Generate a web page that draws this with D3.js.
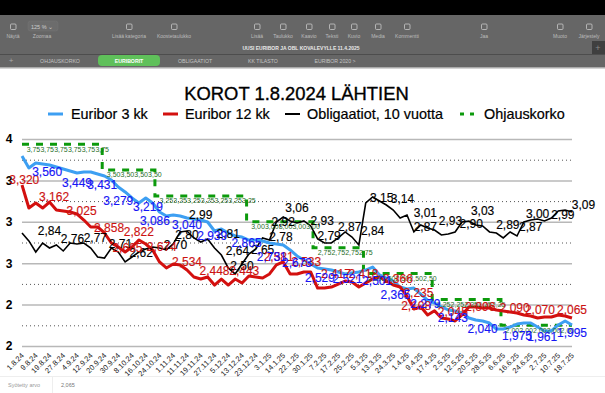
<!DOCTYPE html>
<html><head><meta charset="utf-8">
<script src="https://cdn.jsdelivr.net/npm/d3@7"></script>
<style>html,body{margin:0;padding:0;background:#fff}svg{display:block;font-family:"Liberation Sans",Arial,sans-serif}</style>
</head><body><svg id="c" width="605" height="393"></svg>
<script>
const titleText = "KOROT 1.8.2024 LÄHTIEN";
const seriesNames = ["Euribor 3 kk","Euribor 12 kk","Obligaatiot, 10 vuotta","Ohjauskorko"];
const tickLabels = ["1.8.24","9.8.24","19.8.24","27.8.24","4.9.24","12.9.24","20.9.24","30.9.24","8.10.24","16.10.24","24.10.24","1.11.24","11.11.24","19.11.24","27.11.24","5.12.24","13.12.24","23.12.24","3.1.25","14.1.25","22.1.25","30.1.25","7.2.25","17.2.25","25.2.25","5.3.25","13.3.25","24.3.25","1.4.25","9.4.25","17.4.25","2.5.25","12.5.25","20.5.25","28.5.25","6.6.25","16.6.25","24.6.25","2.7.25","10.7.25","18.7.25"];
const yTicks = [1.8,2.2,2.6,3.0,3.4,3.8];
const yMinor = [2.0,2.4,2.8,3.2,3.6];
const sampleStep = 3; // business days between sampled readings
const euribor3 = [3.636,3.52,3.568,3.558,3.549,3.53,3.51,3.491,3.471,3.481,3.481,3.462,3.443,3.404,3.336,3.288,3.23,3.182,3.23,3.182,3.095,3.056,3.066,3.056,3.037,3.027,3.017,2.998,2.911,2.93,2.892,2.863,2.853,2.824,2.824,2.814,2.795,2.785,2.776,2.728,2.67,2.631,2.592,2.554,2.544,2.534,2.515,2.496,2.505,2.515,2.534,2.563,2.486,2.457,2.428,2.37,2.351,2.36,2.302,2.244,2.215,2.177,2.148,2.138,2.119,2.07,2.051,2.042,2.022,1.964,1.964,1.983,2.012,2.022,2.022,1.983,1.945,1.945,2.003,2.042,2.003];
const euribor12 = [3.356,3.133,3.182,3.133,3.191,3.114,3.104,3.095,3.075,3.017,2.95,2.95,2.892,2.795,2.757,2.708,2.757,2.824,2.785,2.728,2.612,2.554,2.592,2.583,2.534,2.467,2.447,2.467,2.389,2.447,2.389,2.447,2.409,2.476,2.467,2.457,2.496,2.583,2.612,2.496,2.496,2.515,2.515,2.36,2.36,2.37,2.399,2.428,2.418,2.37,2.409,2.447,2.467,2.428,2.389,2.37,2.283,2.157,2.18,2.10,2.14,2.07,2.061,2.042,2.1,2.177,2.177,2.167,2.167,2.148,2.138,2.129,2.119,2.1,2.09,2.07,2.08,2.08,2.1,2.09,2.07];
const bond10 = [2.892,2.815,2.708,2.795,2.747,2.776,2.718,2.795,2.786,2.795,2.747,2.66,2.65,2.747,2.708,2.612,2.66,2.708,2.737,2.757,2.747,2.728,2.786,2.902,2.911,2.844,2.805,2.834,2.747,2.679,2.554,2.496,2.592,2.689,2.737,2.844,2.824,2.998,3.047,3.008,2.989,3.008,2.96,2.834,2.795,2.795,2.844,2.902,2.853,2.776,3.182,3.24,3.201,3.162,3.114,3.037,3.066,2.902,2.969,2.94,2.921,2.873,2.882,2.902,2.998,3.008,2.969,2.96,2.902,2.892,2.844,2.902,2.863,2.998,3.017,3.027,3.008,3.037,3.105,3.114,3.095];
const policyLevels = [3.75,3.5,3.25,3.0,2.75,2.5,2.25,2.0];
const policyStarts = [0,35,58,98,127,149,179,209,240];
const blueLabelIdx = [11,24,35,42,55,58,72,83,98,109,120,130,142,155,163,176,188,201,216,227,240];
const blueLabelVal = [3.560,3.449,3.431,3.279,3.219,3.086,3.040,2.939,2.865,2.731,2.673,2.529,2.521,2.501,2.365,2.279,2.143,2.040,1.975,1.961,1.995];
const redLabelIdx = [1,14,26,38,46,51,61,72,84,97,112,124,137,149,164,173,172,188,200,215,226,240];
const redLabelVal = [3.320,3.162,3.025,2.858,2.665,2.822,2.674,2.534,2.448,2.443,2.581,2.533,2.417,2.418,2.366,2.235,2.108,2.045,2.096,2.090,2.070,2.065];
const blackLabelIdx = [12,22,32,43,52,67,72,78,90,94,96,105,113,114,120,131,134,143,153,157,166,176,176,187,196,201,212,222,225,236,245];
const blackLabelVal = [2.84,2.76,2.77,2.71,2.62,2.70,2.80,2.99,2.81,2.64,2.50,2.65,2.78,2.92,3.06,2.93,2.79,2.87,2.84,3.15,3.14,3.01,2.87,2.93,2.90,3.03,2.89,2.87,3.00,2.99,3.09];
const toolbarItems = [["Näytä",13],["Zoomaa",42],["Lisää kategoria",129],["Koostetaulukko",174],["Lisää",257],["Taulukko",283],["Kaavio",309],["Teksti",332],["Kuvio",354],["Media",378],["Kommentti",407],["Jaa",484],["Muoto",560],["Järjestely",589]];
const tabs = [["OHJAUSKORKO",60],["EURIBORIT",129],["OBLIGAATIOT",195],["KK TILASTO",263],["EURIBOR 2020 >",335]];

const svg = d3.select("#c");
// --- app chrome
svg.append("rect").attr("width",605).attr("height",393).attr("fill","#fff");
svg.append("rect").attr("width",605).attr("height",15).attr("fill","#000");
svg.append("rect").attr("y",15).attr("width",605).attr("height",53).attr("fill","#666");
svg.append("rect").attr("y",54).attr("width",605).attr("height",1).attr("fill","#4d4d4d");
svg.append("rect").attr("y",67).attr("width",605).attr("height",1.5).attr("fill","#aaa");
svg.append("rect").attr("x",592).attr("y",41).attr("width",13).attr("height",13).attr("fill","#3f3f3f");
svg.append("text").attr("x",598).attr("y",51).attr("text-anchor","middle").attr("font-size",9).attr("fill","#888").text("+");
svg.append("rect").attr("x",28).attr("y",21).attr("width",30).attr("height",10).attr("rx",2.5).attr("fill","#6c6c6c").attr("stroke","#777").attr("stroke-width",.5);
svg.append("text").attr("x",42).attr("y",29).attr("text-anchor","middle").attr("font-size",5.5).attr("fill","#ccc").text("125 % ⌄");
toolbarItems.forEach(([t,x],i)=>{
  svg.append("text").attr("x",x).attr("y",38).attr("text-anchor","middle").attr("font-size",5).attr("fill","#bcbcbc").text(t);
  if(i!==1) svg.append("rect").attr("x",x-2.5).attr("y",24).attr("width",5.5).attr("height",5.5).attr("rx",1).attr("fill","none").attr("stroke","#c8c8c8").attr("stroke-width",.8);
});
svg.append("text").attr("x",301).attr("y",50).attr("text-anchor","middle").attr("font-size",5).attr("font-weight",700).attr("fill","#e8e8e8").text("UUSI EURIBOR JA OBL KOVALEVYLLE 11.4.2025");
svg.append("rect").attr("x",98).attr("y",55).attr("width",62).attr("height",11).attr("rx",4).attr("fill","#5fc05a");
svg.append("text").attr("x",11).attr("y",63).attr("text-anchor","middle").attr("font-size",8).attr("fill","#aaa").text("+");
tabs.forEach(([t,x],i)=>svg.append("text").attr("x",x).attr("y",63).attr("text-anchor","middle").attr("font-size",5.2).attr("font-weight",i==1?700:400).attr("fill",i==1?"#fff":"#c4c4c4").text(t));
// footer
svg.append("rect").attr("y",376).attr("width",605).attr("height",1).attr("fill","#eee");
svg.append("rect").attr("x",52).attr("y",376).attr("width",1).attr("height",17).attr("fill","#eee");
svg.append("text").attr("x",8).attr("y",387).attr("font-size",5.5).attr("fill","#9a9a9a").text("Syötetty arvo");
svg.append("text").attr("x",61).attr("y",387).attr("font-size",5.5).attr("fill","#777").text("2,065");

// --- scales
const left=22,right=572;
const x = d3.scaleLinear().domain([0,240]).range([left,right]);
const xCat = d3.scalePoint().domain(tickLabels).range([left,right]);
const y = d3.scaleLinear().domain([1.8,3.8]).range([346,139]);

// --- grid & axes
const minor = svg.append("g").attr("transform",`translate(${left},0)`)
  .call(d3.axisLeft(y).tickValues(yMinor).tickSize(-(right-left)).tickFormat(""));
minor.select(".domain").remove();
minor.selectAll("line").attr("stroke","#555").attr("stroke-width",1).attr("stroke-dasharray","1 3");
const major = svg.append("g").attr("transform",`translate(${left},0)`)
  .call(d3.axisLeft(y).tickValues(yTicks).tickSize(-(right-left)).tickPadding(8).tickFormat(d3.format(".0f")));
major.select(".domain").remove();
major.selectAll("line").attr("stroke","#b8b8b8").attr("stroke-width",1.5);
major.selectAll("text").attr("font-size",12).attr("font-weight",700).attr("fill","#000").attr("font-family","Liberation Sans").attr("text-anchor","middle").attr("x",-13);
const xAxis = svg.append("g").attr("transform","translate(0,346)").call(d3.axisBottom(xCat).tickSize(0));
xAxis.select(".domain").remove();
xAxis.selectAll("text").attr("font-size",7.5).attr("fill","#222").attr("font-family","Liberation Sans")
  .attr("text-anchor","end").attr("dy",0).attr("y",0).attr("transform","translate(2,10) rotate(-45)");

// --- lines
const line = d3.line().x((d,i)=>x(i*sampleStep)).y(d=>y(d)).curve(d3.curveLinear);
const policyData = policyLevels.map((v,i)=>[policyStarts[i],v]).concat([[240,policyLevels[policyLevels.length-1]]]);
svg.append("path").attr("d",d3.line().x(d=>x(d[0])).y(d=>y(d[1])).curve(d3.curveStepAfter)(policyData))
  .attr("fill","none").attr("stroke","#0c9a0c").attr("stroke-width",3).attr("stroke-dasharray","7 7");
svg.append("path").attr("d",line(bond10)).attr("fill","none").attr("stroke","#000").attr("stroke-width",1.6);
svg.append("path").attr("d",line(euribor3)).attr("fill","none").attr("stroke","#3d9ff2").attr("stroke-width",3).attr("stroke-linejoin","round");
svg.append("path").attr("d",line(euribor12)).attr("fill","none").attr("stroke","#d3100f").attr("stroke-width",3).attr("stroke-linejoin","round");

// --- data labels
const fmt3 = d3.format(".3f"), fmt2 = d3.format(".2f");
const comma = s=>s.replace(".",",");
function labels(idx,vals,fmt,dy,color,size,sw){
  svg.append("g").selectAll("text").data(vals).join("text")
    .attr("x",(d,i)=>x(idx[i])).attr("y",d=>y(d)+dy)
    .attr("text-anchor","middle").attr("dominant-baseline","middle")
    .attr("font-size",size).attr("fill",color).attr("stroke",color).attr("stroke-width",sw).text(d=>comma(fmt(d)));
}
policyLevels.forEach((v,i)=>{
  const idx=[]; for(let k=policyStarts[i]+5;k<=policyStarts[i+1]+1;k+=6) idx.push(k);
  labels(idx,idx.map(()=>v),fmt2,5.5,"#1f6e1f",7,0);
});
labels(blackLabelIdx,blackLabelVal,fmt2,-7,"#000",12,.15);
labels(redLabelIdx,redLabelVal,fmt3,-7.5,"#cc1212",12,.15);
labels(blueLabelIdx,blueLabelVal,fmt3,8.5,"#1616f5",12,.15);

// --- title & legend
svg.append("text").attr("x",296.5).attr("y",99.5).attr("text-anchor","middle").attr("font-size",18.4).attr("fill","#000").attr("stroke","#000").attr("stroke-width",.35).text(titleText);
const legendX=[71,185,307,484], swatchX=[48,163,285,460], legendC=["#3d9ff2","#d3100f","#000","#0c9a0c"], legendW=[3,3,2,3];
seriesNames.forEach((n,i)=>{
  svg.append("line").attr("x1",swatchX[i]).attr("x2",swatchX[i]+15).attr("y1",114).attr("y2",114)
    .attr("stroke",legendC[i]).attr("stroke-width",legendW[i]).attr("stroke-dasharray",i==3?"4 6":null);
  svg.append("text").attr("x",legendX[i]).attr("y",119).attr("font-size",14.4).attr("fill","#000").attr("stroke","#000").attr("stroke-width",.2).text(n);
});
</script></body></html>
